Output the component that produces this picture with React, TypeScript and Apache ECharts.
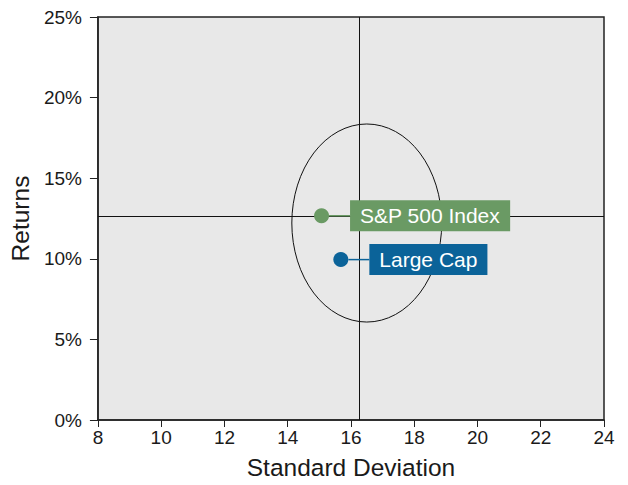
import React, { useEffect, useRef } from "react";
import * as echarts from "echarts";

const names = ["S&P 500 Index", "Large Cap"];
const stdDev = [15.07, 15.68];
const returns = [12.67, 9.95];
const colors = ["#6a9a64", "#0b6399"];
const xTicks = [8, 24, 2];
const yTicks = [0, 25, 5];
const crossStdDev = 16.25;
const crossReturn = 12.67;
// ellipse: center x, center y, radius x, radius y (data units)
const ellipseData = [16.5, 12.22, 2.37, 6.14];

const FONT = "Liberation Sans, Arial, sans-serif";

export default function App() {
  const ref = useRef<HTMLDivElement>(null);
  useEffect(() => {
    if (!ref.current) return;
    const chart = echarts.init(ref.current, null, { renderer: "svg" });
    const option: any = {
      animation: false,
      textStyle: { fontFamily: FONT },
      grid: {
        left: 95,
        right: 24,
        top: 17,
        bottom: 60,
        show: true,
        backgroundColor: "#e8e8e8",
        borderColor: "#222",
        borderWidth: 1.5,
      },
      xAxis: {
        type: "value",
        min: xTicks[0],
        max: xTicks[1],
        interval: xTicks[2],
        name: "Standard Deviation",
        nameLocation: "middle",
        nameGap: 35,
        nameTextStyle: { fontSize: 24.5, color: "#1a1a1a", fontFamily: FONT },
        axisLine: { show: true, onZero: false, lineStyle: { color: "#222", width: 1.5 } },
        axisTick: { show: true, length: 7, lineStyle: { color: "#222" } },
        axisLabel: { fontSize: 19, color: "#1a1a1a", margin: 8, fontFamily: FONT },
        splitLine: { show: false },
      },
      yAxis: {
        type: "value",
        min: yTicks[0],
        max: yTicks[1],
        interval: yTicks[2],
        name: "Returns",
        nameLocation: "middle",
        nameGap: 58,
        nameTextStyle: { fontSize: 24.5, color: "#1a1a1a", fontFamily: FONT },
        axisLine: { show: true, onZero: false, lineStyle: { color: "#222", width: 1.5 } },
        axisTick: { show: true, length: 8, lineStyle: { color: "#222" } },
        axisLabel: { fontSize: 19, color: "#1a1a1a", margin: 16, formatter: "{value}%", fontFamily: FONT },
        splitLine: { show: false },
      },
      series: [
        {
          type: "custom",
          z: 1,
          silent: true,
          data: [ellipseData],
          renderItem: (params: any, api: any) => {
            const c = api.coord([api.value(0), api.value(1)]);
            const s = api.size([api.value(2), api.value(3)]);
            const cx = c[0], cy = c[1], rx = s[0], ry = s[1];
            const d = `M ${cx - rx} ${cy} A ${rx} ${ry} 0 1 0 ${cx + rx} ${cy} A ${rx} ${ry} 0 1 0 ${cx - rx} ${cy} Z`;
            return {
              type: "path",
              shape: { pathData: d },
              style: { fill: "none", stroke: "#111", lineWidth: 1 },
            };
          },
          markLine: {
            silent: true,
            symbol: "none",
            label: { show: false },
            lineStyle: { color: "#111", width: 1, type: "solid" },
            data: [{ xAxis: crossStdDev }, { yAxis: crossReturn }],
          },
        },
        {
          type: "scatter",
          z: 5,
          symbolSize: 15,
          itemStyle: { opacity: 1 },
          data: names.map((n, i) => ({
            name: n,
            value: [stdDev[i], returns[i]],
            itemStyle: { color: colors[i], opacity: 1 },
            label: {
              show: true,
              position: "right",
              distance: 0,
              opacity: 1,
              formatter: `{line|}{box|${n}}`,
              rich: {
                line: { width: 21, height: 1.5, backgroundColor: colors[i] },
                box: {
                  backgroundColor: colors[i],
                  color: "#fff",
                  fontSize: 21,
                  fontFamily: FONT,
                  padding: [5, 10, 5, 10],
                  lineHeight: 21,
                },
              },
            },
          })),
        },
      ],
    };
    chart.setOption(option);
    return () => chart.dispose();
  }, []);
  return (
    <div
      ref={ref}
      style={{ position: "absolute", left: 0, top: 0, width: 628, height: 485 }}
    />
  );
}
